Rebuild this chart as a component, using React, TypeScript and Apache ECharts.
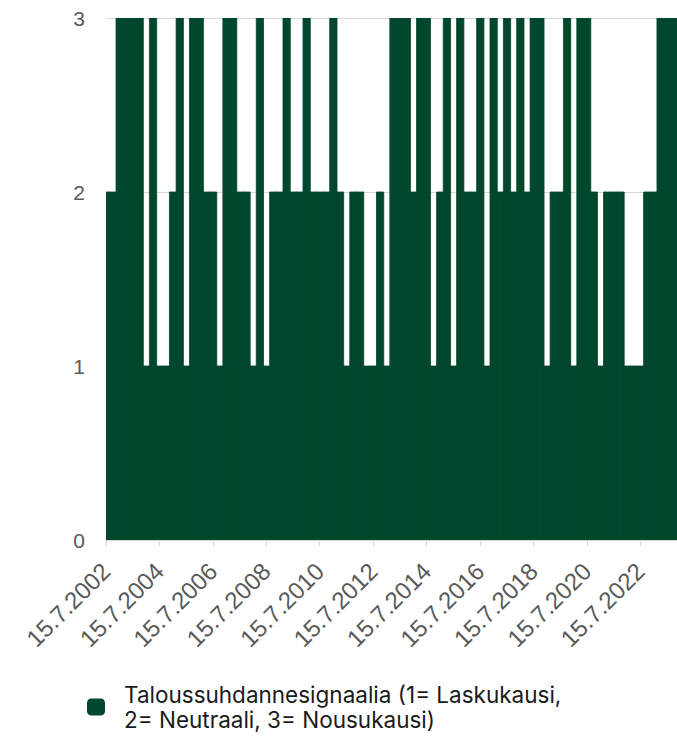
import React, { useEffect, useRef } from "react";
import * as echarts from "echarts";

// Quarterly economic-cycle signal, first observation 15.7.2002 (index 0), one value per quarter
const signalValues = [
  2, 2, 3, 3, 3, 3, 1, 3, 1, 1,
  2, 3, 1, 3, 3, 2, 2, 1, 3, 3,
  2, 2, 1, 3, 1, 2, 2, 3, 2, 2,
  3, 2, 2, 2, 3, 2, 1, 2, 2, 1,
  1, 2, 1, 3, 3, 3, 2, 3, 3, 1,
  2, 3, 1, 3, 2, 2, 3, 1, 3, 2,
  3, 2, 3, 2, 3, 3, 1, 2, 2, 3,
  1, 3, 3, 2, 1, 2, 2, 2, 1, 1,
  1, 2, 2, 3, 3, 3,
];

// Tick labels, one every 8 quarters (2 years)
const tickLabels = [
  "15.7.2002", "15.7.2004", "15.7.2006", "15.7.2008", "15.7.2010", "15.7.2012",
  "15.7.2014", "15.7.2016", "15.7.2018", "15.7.2020", "15.7.2022",
];

const yTicks = [0, 1, 2, 3];

const seriesName = "Taloussuhdannesignaalia (1= Laskukausi,\n2= Neutraali, 3= Nousukausi)";

export default function App() {
  const ref = useRef<HTMLDivElement>(null);
  useEffect(() => {
    if (!ref.current) return;
    const chart = echarts.init(ref.current, null, { renderer: "svg" });
    const axisColor = "#595959";
    const lineColor = "#d9d9d9";
    const barColor = "#00472b";
    const font = "'Liberation Sans', Arial, sans-serif";
    const xMax = signalValues.length - 0.5;
    chart.setOption({
      animation: false,
      backgroundColor: "#ffffff",
      grid: { left: 106, right: 0, top: 18, bottom: 196, containLabel: false },
      xAxis: {
        type: "value",
        min: 0,
        max: xMax,
        interval: 8,
        axisLine: { show: true, lineStyle: { color: lineColor, width: 1 } },
        axisTick: { show: true, length: 6, lineStyle: { color: lineColor } },
        splitLine: { show: false },
        axisLabel: {
          rotate: 45,
          margin: 27,
          color: axisColor,
          fontSize: 24,
          fontFamily: font,
          showMaxLabel: false,
          formatter: (v: number) => (v % 8 === 0 && tickLabels[v / 8]) ? tickLabels[v / 8] : "",
        },
      },
      yAxis: {
        type: "value",
        min: yTicks[0],
        max: yTicks[yTicks.length - 1],
        interval: 1,
        axisLine: { show: false },
        axisTick: { show: false },
        splitLine: { show: true, lineStyle: { color: lineColor, width: 1 } },
        axisLabel: { color: axisColor, fontSize: 21, fontFamily: font, margin: 21 },
      },
      legend: {
        data: [seriesName],
        left: 82,
        top: 677,
        icon: "roundRect",
        itemWidth: 18,
        itemHeight: 17,
        textStyle: {
          fontSize: 22.5,
          lineHeight: 25,
          color: "#1a1a1a",
          fontFamily: "Inter, Roboto, sans-serif",
          padding: [0, 0, 0, 14],
        },
      },
      series: [
        {
          name: seriesName,
          type: "custom",
          encode: { x: 0, y: 1 },
          data: signalValues.map((v, i) => [i, v]),
          itemStyle: { color: barColor },
          clip: true,
          renderItem: (params: any, api: any) => {
            const xi = api.value(0);
            const yv = api.value(1);
            const p0 = api.coord([xi - 0.5, yv]);
            const p1 = api.coord([xi + 0.5, 0]);
            const cs = params.coordSys;
            const shape = echarts.graphic.clipRectByRect(
              { x: p0[0], y: p0[1], width: p1[0] - p0[0] + 0.6, height: p1[1] - p0[1] },
              { x: cs.x, y: cs.y, width: cs.width, height: cs.height }
            );
            return shape && {
              type: "rect",
              shape,
              style: { fill: barColor, stroke: barColor, lineWidth: 0.8 },
            };
          },
        },
      ],
    });
    return () => chart.dispose();
  }, []);
  return (
    <div
      ref={ref}
      style={{ position: "fixed", left: 0, top: 0, width: 677, height: 736 }}
    />
  );
}
